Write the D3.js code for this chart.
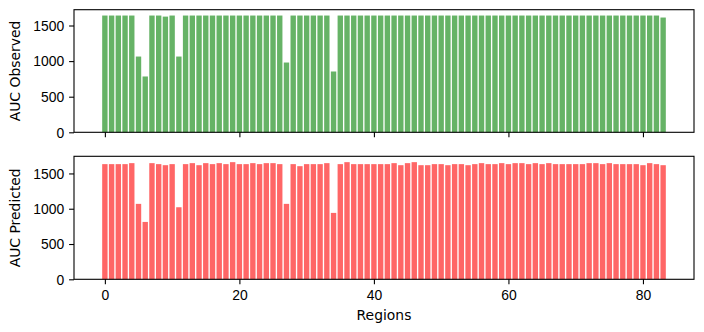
<!DOCTYPE html>
<html lang="en">
<head>
<meta charset="UTF-8">
<title>AUC by region</title>
<script src="https://cdn.jsdelivr.net/npm/d3@7"></script>
<style>
  body { margin: 0; background: #fff; }
  svg { font-family: "DejaVu Sans", sans-serif; }
  .tick text { font-size: 13.9px; fill: #000; }
  .tick line { stroke: #000; stroke-width: 1.1; }
  .domain { display: none; }
</style>
</head>
<body>
<script>
// values
const observed = [
  1640, 1640, 1640, 1640, 1640, 1064, 784, 1640, 1640, 1625,
  1640, 1064, 1640, 1640, 1640, 1640, 1640, 1640, 1640, 1640,
  1640, 1640, 1640, 1640, 1640, 1640, 1640, 980, 1640, 1640,
  1640, 1640, 1640, 1640, 854, 1640, 1640, 1640, 1640, 1640,
  1640, 1640, 1640, 1640, 1640, 1640, 1640, 1640, 1640, 1640,
  1640, 1640, 1640, 1640, 1640, 1640, 1640, 1640, 1640, 1640,
  1640, 1640, 1640, 1640, 1640, 1640, 1640, 1640, 1640, 1640,
  1640, 1640, 1640, 1640, 1640, 1640, 1640, 1640, 1640, 1640,
  1640, 1640, 1640, 1612
];
const predicted = [
  1632, 1632, 1632, 1632, 1646, 1069, 813, 1646, 1632, 1617,
  1632, 1021, 1632, 1646, 1617, 1646, 1632, 1646, 1632, 1660,
  1632, 1632, 1646, 1632, 1646, 1646, 1632, 1069, 1632, 1603,
  1632, 1632, 1632, 1646, 941, 1632, 1660, 1632, 1632, 1632,
  1632, 1632, 1632, 1646, 1617, 1646, 1660, 1617, 1617, 1632,
  1632, 1617, 1632, 1632, 1617, 1632, 1646, 1632, 1632, 1646,
  1632, 1646, 1646, 1632, 1646, 1632, 1646, 1632, 1632, 1632,
  1632, 1632, 1646, 1646, 1632, 1646, 1632, 1632, 1632, 1632,
  1617, 1646, 1632, 1617
];
const regions = d3.range(observed.length);
const xTicks = [0, 20, 40, 60, 80];
const yTicks = [0, 500, 1000, 1500];

const width = 704, height = 332;
const left = 74, right = 694;
const barW = 0.8;

const svg = d3.select("body").append("svg")
  .attr("width", width).attr("height", height);

const pad = (regions.length - 1 + barW) * 0.05;
const x = d3.scaleLinear()
  .domain([-barW / 2 - pad, regions.length - 1 + barW / 2 + pad])
  .range([left, right]);

function panel(values, top, bottom, color, label, showX) {
  const y = d3.scaleLinear()
    .domain([0, d3.max(values) * 1.05])
    .range([bottom, top]);

  const g = svg.append("g");

  g.selectAll("rect")
    .data(values)
    .join("rect")
    .attr("x", (d, i) => x(regions[i] - barW / 2))
    .attr("width", x(barW) - x(0))
    .attr("y", d => y(d))
    .attr("height", d => y(0) - y(d))
    .attr("fill", color);

  g.append("g")
    .attr("transform", `translate(${left},0)`)
    .call(d3.axisLeft(y).tickValues(yTicks).tickFormat(d3.format("d"))
      .tickSize(4.9).tickPadding(4.9).tickSizeOuter(0))
    .selectAll("text").attr("dy", "0.35em");

  const xa = g.append("g")
    .attr("transform", `translate(0,${bottom})`)
    .call(d3.axisBottom(x).tickValues(xTicks).tickFormat(d3.format("d"))
      .tickSize(4.9).tickPadding(4.9).tickSizeOuter(0));
  xa.selectAll("text").attr("dy", "0.78em");
  if (!showX) xa.selectAll("text").remove();

  g.append("rect")
    .attr("x", left).attr("y", top)
    .attr("width", right - left).attr("height", bottom - top)
    .attr("fill", "none").attr("stroke", "#000").attr("stroke-width", 1.1);

  g.append("text")
    .attr("transform", `translate(20,${(top + bottom) / 2}) rotate(-90)`)
    .attr("text-anchor", "middle")
    .attr("font-size", 13.9)
    .text(label);
}

panel(observed, 9.7, 132.3, "#66b366", "AUC Observed", false);
panel(predicted, 156.3, 279.3, "#ff6666", "AUC Predicted", true);

svg.append("text")
  .attr("x", (left + right) / 2)
  .attr("y", 320)
  .attr("text-anchor", "middle")
  .attr("font-size", 13.9)
  .text("Regions");
</script>
</body>
</html>
